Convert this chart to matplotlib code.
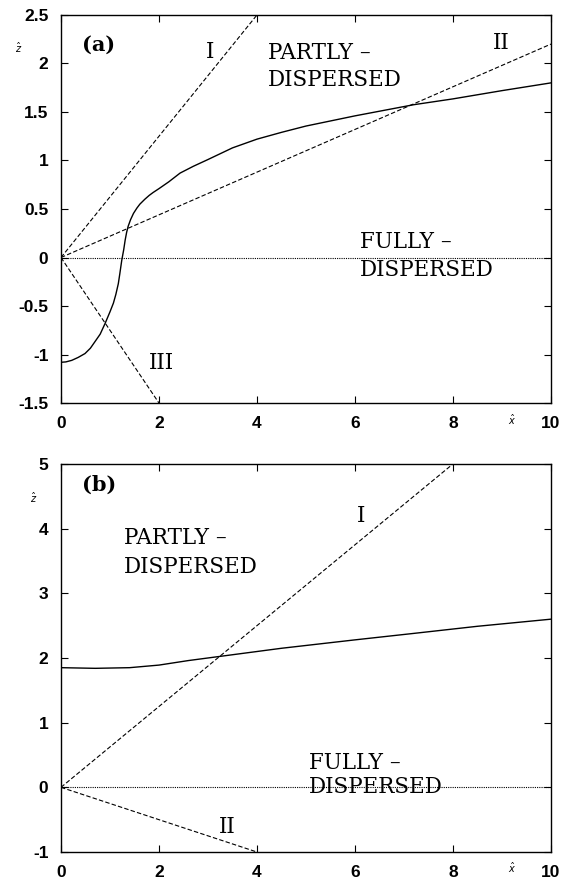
import numpy as np
import matplotlib
matplotlib.use('Agg')
import matplotlib.pyplot as plt

# Curva continua del panel (a)
xa = [0, 0.1, 0.22, 0.35, 0.49, 0.6, 0.69, 0.8, 0.90, 1.0, 1.07, 1.12, 1.17, 1.2, 1.24,
      1.28, 1.31, 1.34, 1.37, 1.42, 1.48, 1.55, 1.61, 1.71, 1.8, 1.88, 2.0, 2.2, 2.43,
      2.7, 3.0, 3.5, 4.0, 4.5, 5.0, 6.0, 7.2, 8.0, 9.0, 10]
za = [-1.08, -1.076, -1.06, -1.03, -0.99, -0.935, -0.87, -0.79, -0.68, -0.56, -0.47, -0.38,
      -0.27, -0.17, -0.03, 0.08, 0.18, 0.26, 0.32, 0.39, 0.455, 0.51, 0.55, 0.60, 0.64,
      0.67, 0.71, 0.78, 0.87, 0.94, 1.01, 1.13, 1.22, 1.29, 1.355, 1.46, 1.575, 1.635,
      1.72, 1.80]

# Curva continua del panel (b)
xb = [0, 0.7, 1.4, 2.0, 2.6, 3.2, 4.0, 4.5, 6.0, 7.2, 8.5, 10]
zb = [1.85, 1.84, 1.85, 1.89, 1.96, 2.02, 2.10, 2.15, 2.28, 2.38, 2.49, 2.60]

# Rectas que salen del origen: (x final, z final)
rays_a = {'I': (4, 2.5), 'II': (10, 2.2), 'III': (2, -1.5)}
rays_b = {'I': (8, 5), 'II': (4, -1)}

ticks_a = [-1.5, -1, -0.5, 0, 0.5, 1, 1.5, 2, 2.5]
ticklabels_a = ['-1.5', '-1', '-0.5', '0', '0.5', '1', '1.5', '2', '2.5']
ticks_b = [-1, 0, 1, 2, 3, 4, 5]
xticks = [0, 2, 4, 6, 8, 10]

serif = 'DejaVu Serif'
tick_font = {'family': 'Liberation Sans', 'weight': 'bold', 'size': 12.5}
dash = (0, (4, 2))

fig = plt.figure(figsize=(5.62, 8.8), dpi=100)
ax1 = fig.add_axes([0.1085, 0.542, 0.8719, 0.441])
ax2 = fig.add_axes([0.1085, 0.0318, 0.8719, 0.441])


def style(ax, ylim, yticks, ylabels):
    ax.set_xlim(0, 10)
    ax.set_ylim(*ylim)
    ax.set_xticks(xticks)
    ax.set_xticklabels([str(t) for t in xticks], fontdict=tick_font)
    ax.set_yticks(yticks)
    ax.set_yticklabels(ylabels, fontdict=tick_font)
    ax.tick_params(direction='in', length=5, width=0.8, top=True, right=True, pad=9)
    for s in ax.spines.values():
        s.set_linewidth(1.0)
    ax.axhline(0, color='black', lw=0.8, ls=(0, (1, 1)))


# Panel (a)
style(ax1, (-1.5, 2.5), ticks_a, ticklabels_a)
for name, (x1, z1) in rays_a.items():
    ax1.plot([0, x1], [0, z1], color='black', lw=0.8, ls=dash)
ax1.plot(xa, za, color='black', lw=1.0)
ax1.text(0.43, 2.19, '(a)', family=serif, weight='bold', fontsize=15, va='center')
ax1.text(3.04, 2.12, 'I', family=serif, fontsize=15.5, ha='center', va='center')
ax1.text(8.98, 2.21, 'II', family=serif, fontsize=15.5, ha='center', va='center')
ax1.text(2.06, -1.09, 'III', family=serif, fontsize=15.5, ha='center', va='center')
ax1.text(4.22, 2.11, 'PARTLY –', family=serif, fontsize=15.5, va='center')
ax1.text(4.22, 1.83, 'DISPERSED', family=serif, fontsize=15.5, va='center')
ax1.text(6.1, 0.16, 'FULLY –', family=serif, fontsize=15.5, va='center')
ax1.text(6.1, -0.13, 'DISPERSED', family=serif, fontsize=15.5, va='center')
fig.text(19 / 562, 1 - 48 / 880, r'$\hat{z}$', fontsize=7, ha='center', va='center')
fig.text(512 / 562, 1 - 420 / 880, r'$\hat{x}$', fontsize=7, ha='center', va='center')

# Panel (b)
style(ax2, (-1, 5), ticks_b, [str(t) for t in ticks_b])
for name, (x1, z1) in rays_b.items():
    ax2.plot([0, x1], [0, z1], color='black', lw=0.8, ls=dash)
ax2.plot(xb, zb, color='black', lw=1.0)
ax2.text(0.43, 4.68, '(b)', family=serif, weight='bold', fontsize=15, va='center')
ax2.text(6.12, 4.19, 'I', family=serif, fontsize=15.5, ha='center', va='center')
ax2.text(3.4, -0.61, 'II', family=serif, fontsize=15.5, ha='center', va='center')
ax2.text(1.29, 3.86, 'PARTLY –', family=serif, fontsize=15.5, va='center')
ax2.text(1.29, 3.41, 'DISPERSED', family=serif, fontsize=15.5, va='center')
ax2.text(5.06, 0.38, 'FULLY –', family=serif, fontsize=15.5, va='center')
ax2.text(5.06, 0.01, 'DISPERSED', family=serif, fontsize=15.5, va='center')
fig.text(34 / 562, 1 - 498 / 880, r'$\hat{z}$', fontsize=7, ha='center', va='center')
fig.text(512 / 562, 1 - 868 / 880, r'$\hat{x}$', fontsize=7, ha='center', va='center')

fig.savefig('out.png', dpi=100)
